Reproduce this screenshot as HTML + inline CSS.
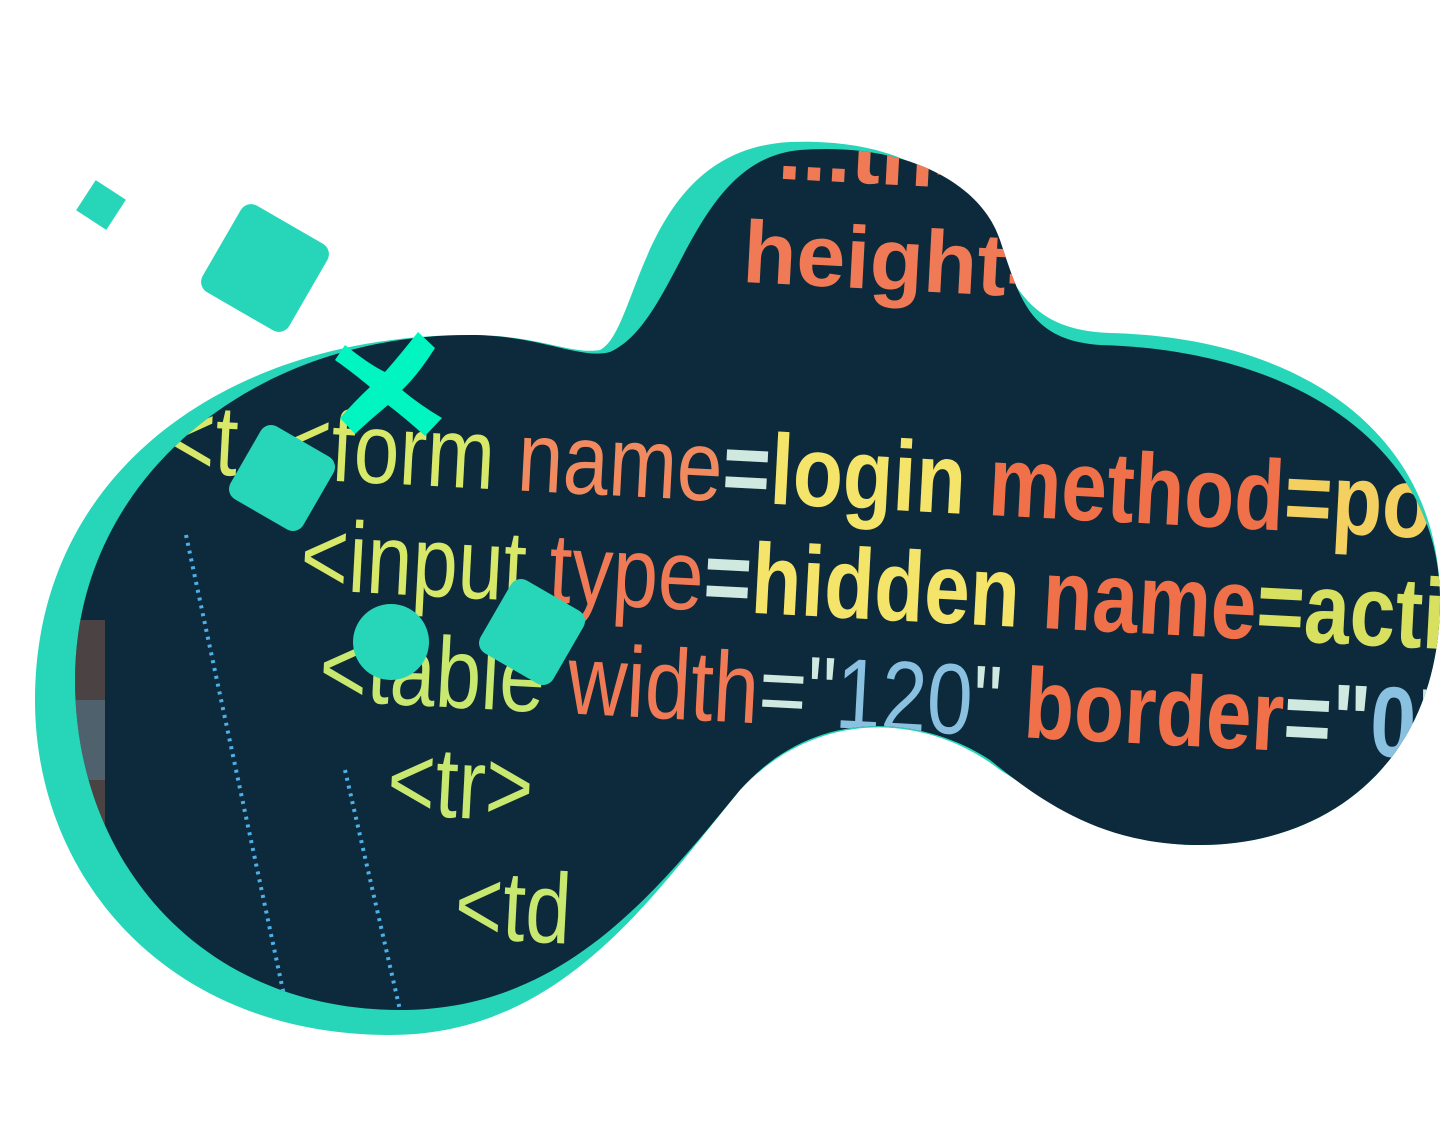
<!DOCTYPE html>
<html><head><meta charset="utf-8"><style>
html,body{margin:0;padding:0;background:#fff;}
svg{display:block}
text{font-family:"Liberation Sans Narrow","Liberation Sans",sans-serif;font-weight:bold}
.n{font-weight:normal}
</style></head><body>
<svg width="1440" height="1127" viewBox="0 0 1440 1127" xmlns="http://www.w3.org/2000/svg">
<defs>
<clipPath id="dk"><path d="M75 680 C75 480 250 335 470 335 C540 335 580 360 610 352 C680 320 690 160 800 150 C900 142 980 180 1000 240 C1020 300 1030 340 1100 345 C1300 350 1440 450 1440 600 C1440 760 1330 845 1200 845 C1100 845 1040 800 990 760 C930 720 820 700 740 790 C650 900 560 1010 400 1010 C200 1010 75 860 75 680 Z"/></clipPath>
</defs>
<path fill="#27d6b8" d="M35 700 C35 470 230 335 470 335 C540 335 570 355 600 350 C640 330 640 150 790 142 C900 138 960 180 990 240 C1020 300 1040 330 1110 333 C1310 338 1440 440 1440 600 C1440 760 1330 845 1200 845 C1100 845 1050 800 1000 770 C930 715 820 705 740 790 C650 900 560 1035 390 1035 C170 1035 35 880 35 700 Z"/>
<path fill="#0c2a3c" d="M75 680 C75 480 250 335 470 335 C540 335 580 360 610 352 C680 320 690 160 800 150 C900 142 980 180 1000 240 C1020 300 1030 340 1100 345 C1300 350 1440 450 1440 600 C1440 760 1330 845 1200 845 C1100 845 1040 800 990 760 C930 720 820 700 740 790 C650 900 560 1010 400 1010 C200 1010 75 860 75 680 Z"/>
<g clip-path="url(#dk)">
<rect x="75" y="620" width="30" height="230" fill="#c07050" opacity="0.35"/>
<rect x="75" y="700" width="30" height="80" fill="#5a90b0" opacity="0.4"/>
<g transform="rotate(3 700 500)">
<text x="730" y="280" font-size="88" fill="#f07a55">height=</text>
<text x="760" y="175" font-size="88" fill="#f07a55">...th=</text>
<g transform="translate(165 0) scale(0.82 1)">
<text x="0" y="500" font-size="100"><tspan class="n" fill="#d8e868">&lt;t&nbsp;&nbsp;&lt;form </tspan><tspan class="n" fill="#f28a60">name</tspan><tspan fill="#cfe8e0">=</tspan><tspan fill="#f4e46a">login </tspan><tspan fill="#f0704a">method</tspan><tspan fill="#f4d060">=post</tspan></text>
<text x="170" y="610" font-size="100"><tspan class="n" fill="#d8e868">&lt;input </tspan><tspan class="n" fill="#f07a55">type</tspan><tspan fill="#cfe8e0">=</tspan><tspan fill="#f4e46a">hidden </tspan><tspan fill="#f0704a">name</tspan><tspan fill="#d8e060">=action</tspan></text>
<text x="200" y="720" font-size="100"><tspan class="n" fill="#c8e870">&lt;table </tspan><tspan class="n" fill="#f07a55">width</tspan><tspan class="n" fill="#cfe8e0">="</tspan><tspan class="n" fill="#8ac0e0">120</tspan><tspan class="n" fill="#cfe8e0">" </tspan><tspan fill="#f0704a">border</tspan><tspan fill="#cfe8e0">="</tspan><tspan fill="#8ac0e0">0</tspan><tspan fill="#cfe8e0">" </tspan><tspan fill="#f04030">al</tspan></text>
<text class="n" x="290" y="830" font-size="100" fill="#c8e870">&lt;tr&gt;</text>
<text class="n" x="380" y="950" font-size="100" fill="#c8e870">&lt;td</text>
</g>
</g>
<line x1="186" y1="535" x2="285" y2="1000" stroke="#4fb0e8" stroke-width="4" stroke-dasharray="3 5"/>
<line x1="345" y1="770" x2="400" y2="1010" stroke="#4fb0e8" stroke-width="4" stroke-dasharray="3 5"/>
</g>
<g fill="#27d6b8">
<rect x="-18" y="-18" width="36" height="36" transform="translate(101 205) rotate(33)"/>
<rect x="-50" y="-50" width="100" height="100" rx="12" transform="translate(265 268) rotate(30)"/>
<rect x="-42" y="-42" width="84" height="84" rx="12" transform="translate(282 478) rotate(30)"/>
<rect x="-42" y="-42" width="84" height="84" rx="12" transform="translate(532 632) rotate(30)"/>
<circle cx="391" cy="642" r="38"/>
</g>
<path fill="#00f5c0" d="M345 345 Q370 365 385 372 Q400 355 418 332 L435 348 Q418 375 402 390 Q420 405 442 418 L425 436 Q405 418 388 405 Q370 420 355 434 L340 418 Q356 400 370 387 Q352 372 335 360 Z"/>
</svg>
</body></html>
